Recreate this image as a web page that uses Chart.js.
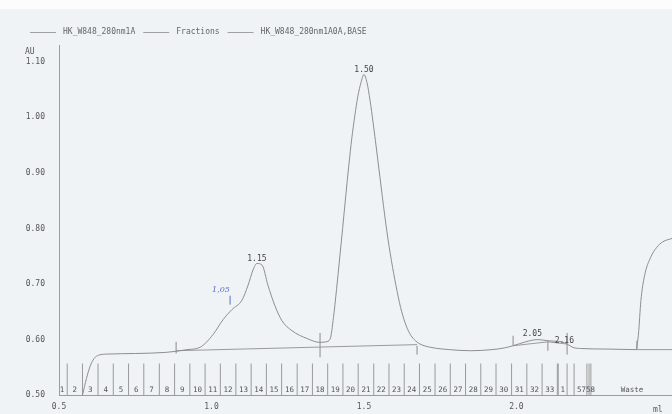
<!DOCTYPE html>
<html>
<head>
<meta charset="utf-8">
<script src="https://cdn.jsdelivr.net/npm/chart.js@4"></script>
<style>
  body { margin: 0; background: #eff3f5; }
  canvas { display: block; }
</style>
</head>
<body>
<canvas id="chromCanvas" width="672" height="414"></canvas>
<script>
// elution volume (ml) and absorbance (AU) of the 280 nm trace
const sampleMl = [0.577, 0.590, 0.602, 0.615, 0.630, 0.660, 0.750, 0.850, 0.884, 0.920,
  0.962, 1.005, 1.038, 1.067, 1.100, 1.120, 1.136, 1.149, 1.166, 1.185,
  1.208, 1.231, 1.264, 1.313, 1.356, 1.375, 1.389, 1.400, 1.410, 1.420,
  1.430, 1.440, 1.450, 1.460, 1.470, 1.480, 1.490, 1.500, 1.510, 1.520,
  1.530, 1.545, 1.560, 1.575, 1.590, 1.605, 1.620, 1.635, 1.650, 1.665,
  1.684, 1.720, 1.780, 1.850, 1.920, 1.960, 1.989, 2.030, 2.070, 2.103,
  2.130, 2.150, 2.166, 2.185, 2.210, 2.300, 2.392, 2.400, 2.408, 2.420,
  2.440, 2.460, 2.480, 2.510];
const absorbance = [0.500, 0.530, 0.552, 0.566, 0.572, 0.574, 0.575, 0.577, 0.579, 0.582,
  0.586, 0.609, 0.636, 0.654, 0.671, 0.698, 0.725, 0.737, 0.734, 0.698,
  0.661, 0.634, 0.616, 0.602, 0.595, 0.596, 0.601, 0.640, 0.690, 0.745,
  0.800, 0.857, 0.912, 0.962, 1.003, 1.038, 1.062, 1.077, 1.062, 1.030,
  0.990, 0.925, 0.858, 0.795, 0.742, 0.697, 0.658, 0.630, 0.611, 0.600,
  0.592, 0.586, 0.582, 0.580, 0.582, 0.585, 0.589, 0.596, 0.600, 0.598,
  0.597, 0.596, 0.592, 0.586, 0.584, 0.583, 0.582, 0.610, 0.670, 0.715,
  0.748, 0.766, 0.776, 0.782];

// peak baseline (BASE trace), null = gap
const baseMl = [0.884, 1.674, null, 1.989, 2.103, 2.166, null, 2.392, 2.510];
const baseAu = [0.580, 0.591, null, 0.589, 0.596, 0.592, null, 0.582, 0.582];

// fraction collector boundaries (ml)
const fractionBounds = [0.477, 0.527, 0.577, 0.628, 0.678, 0.728, 0.778, 0.829, 0.879, 0.929,
  0.979, 1.029, 1.080, 1.130, 1.180, 1.230, 1.281, 1.331, 1.381, 1.431,
  1.481, 1.532, 1.582, 1.632, 1.682, 1.733, 1.783, 1.833, 1.883, 1.933,
  1.984, 2.034, 2.084, 2.134, 2.137, 2.166, 2.189, 2.231, 2.238, 2.244];
const fractionNames = ['1', '2', '3', '4', '5', '6', '7', '8', '9', '10', '11', '12', '13', '14',
  '15', '16', '17', '18', '19', '20', '21', '22', '23', '24', '25', '26', '27', '28', '29', '30',
  '31', '32', '33'];
const extraNames = ['1', '5758', 'Waste'];
const extraNameMl = [2.152, 2.228, 2.379];
const fractionTop = 0.557;

// peak annotations
const peakLabels = ['1.15', '1.50', '2.05', '2.16'];
const peakMl = [1.149, 1.500, 2.052, 2.157];
const peakAu = [0.746, 1.086, 0.611, 0.598];

// integration marks on the trace
const markMl = [0.884, 1.356, 1.674, 1.989, 2.103, 2.166, 2.395];
const markLow = [0.575, 0.568, 0.573, 0.589, 0.580, 0.573, 0.582];
const markHigh = [0.596, 0.612, 0.589, 0.607, 0.598, 0.612, 0.598];

// handwritten note
const noteText = '1,05';
const noteMl = 1.031;
const noteAu = 0.689;
const noteTickMl = [1.061, 1.061];
const noteTickAu = [0.663, 0.679];

const xTicks = [0.5, 1.0, 1.5, 2.0];
const yTicks = [0.50, 0.60, 0.70, 0.80, 0.90, 1.00, 1.10];

const legendNames = ['HK_W848_280nm1A', 'Fractions', 'HK_W848_280nm1A0A,BASE'];

const mono = "'DejaVu Sans Mono', monospace";
const lineGray = '#8e8e8e';
const textGray = '#555';

const curvePoints = sampleMl.map((x, i) => ({ x: x, y: absorbance[i] }));
const basePoints = baseMl.map((x, i) => ({ x: x === null ? NaN : x, y: baseAu[i] }));
const fractionPoints = [];
fractionBounds.forEach(b => {
  fractionPoints.push({ x: b, y: 0.5 }, { x: b, y: fractionTop }, { x: b, y: null });
});
const markPoints = [];
markMl.forEach((m, i) => {
  markPoints.push({ x: m, y: markLow[i] }, { x: m, y: markHigh[i] }, { x: m, y: null });
});
const notePoints = noteTickMl.map((x, i) => ({ x: x, y: noteTickAu[i] }));

const overlay = {
  id: 'overlay',
  beforeDraw(chart) {
    const ctx = chart.ctx;
    ctx.save();
    ctx.fillStyle = '#eff3f5';
    ctx.fillRect(0, 0, chart.width, chart.height);
    ctx.fillStyle = '#fcfcfc';
    ctx.fillRect(0, 0, chart.width, 9);
    ctx.restore();
  },
  afterDatasetsDraw(chart) {
    const ctx = chart.ctx;
    const xs = chart.scales.x;
    const ys = chart.scales.y;
    ctx.save();

    // fraction numbers
    ctx.font = '7.5px ' + mono;
    ctx.fillStyle = textGray;
    ctx.textAlign = 'center';
    ctx.textBaseline = 'bottom';
    const yNum = ys.getPixelForValue(0.5) - 1;
    fractionNames.forEach((name, i) => {
      const mid = (fractionBounds[i] + fractionBounds[i + 1]) / 2;
      ctx.fillText(name, Math.max(xs.getPixelForValue(mid), chart.chartArea.left + 3), yNum);
    });
    extraNames.forEach((name, i) => {
      ctx.fillText(name, xs.getPixelForValue(extraNameMl[i]), yNum);
    });

    // peak labels
    ctx.font = '8px ' + mono;
    ctx.fillStyle = '#444';
    ctx.textBaseline = 'middle';
    peakLabels.forEach((lab, i) => {
      ctx.fillText(lab, xs.getPixelForValue(peakMl[i]), ys.getPixelForValue(peakAu[i]));
    });

    // handwritten note
    ctx.font = 'italic 8px "DejaVu Serif", serif';
    ctx.fillStyle = '#5b6fcf';
    ctx.fillText(noteText, xs.getPixelForValue(noteMl), ys.getPixelForValue(noteAu));

    // axis units
    ctx.font = '8px ' + mono;
    ctx.fillStyle = textGray;
    ctx.textAlign = 'left';
    ctx.fillText('AU', 25, 52);
    ctx.fillText('ml', 653, 410);

    // legend
    let lx = 30;
    const ly = 32;
    legendNames.forEach(name => {
      ctx.strokeStyle = '#a0a0a0';
      ctx.lineWidth = 1;
      ctx.beginPath();
      ctx.moveTo(lx, ly + 0.5);
      ctx.lineTo(lx + 26, ly + 0.5);
      ctx.stroke();
      lx += 33;
      ctx.fillStyle = '#666';
      ctx.fillText(name, lx, ly);
      lx += ctx.measureText(name).width + 8;
    });
    ctx.restore();
  }
};

new Chart(document.getElementById('chromCanvas'), {
  type: 'line',
  data: {
    datasets: [
      { label: legendNames[0], data: curvePoints, borderColor: lineGray, borderWidth: 1,
        pointRadius: 0, cubicInterpolationMode: 'monotone' },
      { label: legendNames[1], data: fractionPoints, borderColor: '#9a9a9a', borderWidth: 1,
        pointRadius: 0, spanGaps: false },
      { label: legendNames[2], data: basePoints, borderColor: '#9a9a9a', borderWidth: 1,
        pointRadius: 0, spanGaps: false },
      { label: 'marks', data: markPoints, borderColor: '#8a8a8a', borderWidth: 1,
        pointRadius: 0, spanGaps: false },
      { label: 'note', data: notePoints, borderColor: '#5b6fcf', borderWidth: 1, pointRadius: 0 }
    ]
  },
  options: {
    responsive: false,
    animation: false,
    layout: { padding: { top: 45, left: 0, right: 0, bottom: 0 } },
    plugins: { legend: { display: false }, tooltip: { enabled: false } },
    scales: {
      x: {
        type: 'linear',
        min: 0.5,
        max: 2.51,
        grid: { display: false, drawTicks: false },
        border: { color: '#9c9c9c' },
        afterBuildTicks: scale => { scale.ticks = xTicks.map(v => ({ value: v })); },
        afterFit: scale => { scale.height = 16; },
        ticks: {
          padding: 7,
          color: textGray,
          font: { family: mono, size: 8 },
          maxRotation: 0,
          callback: v => v.toFixed(1)
        }
      },
      y: {
        min: 0.5,
        max: 1.13,
        grid: { display: false, drawTicks: false },
        border: { color: '#9c9c9c' },
        afterBuildTicks: scale => { scale.ticks = yTicks.map(v => ({ value: v })); },
        afterFit: scale => { scale.width = 59; },
        ticks: {
          padding: 14,
          color: textGray,
          font: { family: mono, size: 8 },
          callback: v => v.toFixed(2)
        }
      }
    }
  },
  plugins: [overlay]
});
</script>
</body>
</html>
